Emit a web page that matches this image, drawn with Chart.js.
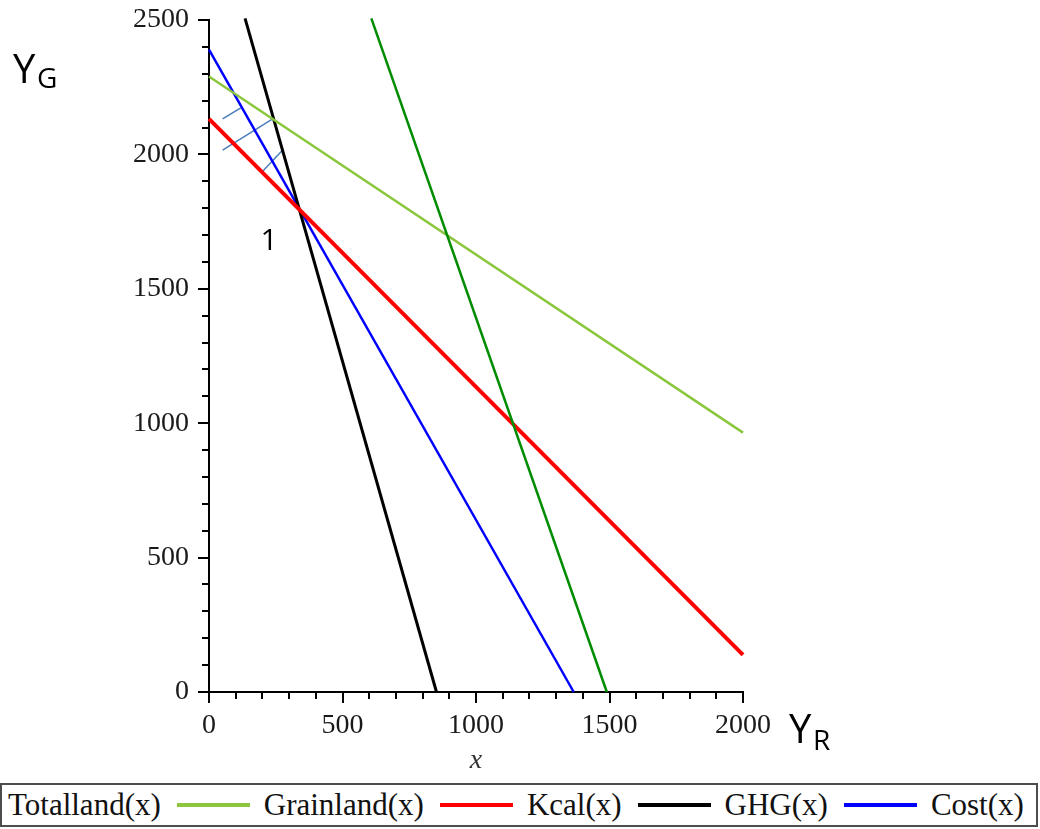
<!DOCTYPE html>
<html>
<head>
<meta charset="utf-8">
<script src="https://cdn.jsdelivr.net/npm/chart.js@4.4.0/dist/chart.umd.min.js"></script>
<style>
  html, body { margin: 0; padding: 0; background: #fff; }
  #wrap { position: relative; width: 1040px; height: 829px; }
  #chartBox { position: absolute; left: 0; top: 0; width: 1040px; height: 780px; }
  #legend {
    position: absolute; left: 0; top: 783px; width: 1038px; height: 44px;
    box-sizing: border-box; border: 2px solid #4d4d4d;
    display: flex; align-items: center; padding-left: 6px;
    font-family: 'Liberation Serif', 'Times New Roman', serif; font-size: 31px;
    color: #111; white-space: nowrap;
  }
  #legend .sample { display: inline-block; width: 73px; height: 4px; margin: 0 14px 0 16px; }
</style>
</head>
<body>
<div id="wrap">
  <div id="chartBox"><canvas id="lpChart"></canvas></div>
  <div id="legend"></div>
</div>
<script>
// --- axis ranges / ticks ---
const X_MIN = 0, X_MAX = 2000;
const Y_MIN = 0, Y_MAX = 2500;
const TICK_STEP = 100;   // minor tick every 100
const MAJOR_STEP = 500;  // labelled tick every 500

// --- constraint lines (end points) ---
const seriesNames  = ['Totalland(x)', 'Grainland(x)', 'Kcal(x)', 'GHG(x)', 'Cost(x)'];
const seriesColors = ['#008c00', '#8cc63f', '#ff0000', '#000000', '#0000ff'];
const seriesWidths = [2.5, 2.5, 4, 3, 2.5];
const seriesX = [[608, 1490], [0, 2000], [0, 2000], [135, 852], [0, 1366]];
const seriesY = [[2506, 0], [2290, 965], [2132, 138], [2506, 0], [2390, 0]];

// --- small hatch strokes near the feasible corner ---
const hatchX = [[51, 119], [51, 243], [202, 276]];
const hatchY = [[2132, 2173], [2016, 2135], [1938, 2016]];
const HATCH_COLOR = '#4a7ebb';

// --- label "1" at the optimum corner ---
const cornerLabel = { text: '1', x: 225, y: 1644 };

const tickFont = { family: "'Liberation Serif', 'Times New Roman', serif", size: 28 };

function toPoints(xs, ys) {
  return xs.map((x, i) => ({ x: x, y: ys[i] }));
}

const datasets = [];
seriesNames.forEach((name, i) => {
  datasets.push({
    label: name,
    data: toPoints(seriesX[i], seriesY[i]),
    borderColor: seriesColors[i],
    borderWidth: seriesWidths[i],
    pointRadius: 0,
    tension: 0,
    clip: false
  });
});
hatchX.forEach((xs, i) => {
  datasets.push({
    label: 'hatch' + i,
    data: toPoints(xs, hatchY[i]),
    borderColor: HATCH_COLOR,
    borderWidth: 1.5,
    pointRadius: 0,
    tension: 0
  });
});

// tick marks (long for major, short for minor) + free text labels
const tickMarks = {
  id: 'tickMarks',
  afterDraw(chart) {
    const ctx = chart.ctx;
    const xs = chart.scales.x, ys = chart.scales.y;
    ctx.save();
    ctx.strokeStyle = '#000';
    ctx.lineWidth = 2;
    ctx.beginPath();
    xs.ticks.forEach(t => {
      const px = Math.round(xs.getPixelForValue(t.value));
      const len = t.value % MAJOR_STEP === 0 ? 11 : 7;
      ctx.moveTo(px, xs.top);
      ctx.lineTo(px, xs.top + len);
    });
    ys.ticks.forEach(t => {
      const py = Math.round(ys.getPixelForValue(t.value));
      const len = t.value % MAJOR_STEP === 0 ? 11 : 7;
      ctx.moveTo(ys.right, py);
      ctx.lineTo(ys.right - len, py);
    });
    ctx.stroke();

    ctx.fillStyle = '#000';
    ctx.textBaseline = 'alphabetic';
    ctx.textAlign = 'left';
    // Y_G
    ctx.font = "40px 'Open Sans', sans-serif";
    ctx.fillText('Y', 13, 83);
    ctx.font = "28px 'Open Sans', sans-serif";
    ctx.fillText('G', 37, 88);
    // Y_R
    ctx.font = "40px 'Open Sans', sans-serif";
    ctx.fillText('Y', 789, 743);
    ctx.font = "28px 'Open Sans', sans-serif";
    ctx.fillText('R', 813, 750);
    // corner label
    ctx.font = "30px 'Open Sans', sans-serif";
    ctx.textAlign = 'center';
    ctx.fillText(cornerLabel.text, xs.getPixelForValue(cornerLabel.x), ys.getPixelForValue(cornerLabel.y));
    ctx.restore();
  }
};

new Chart(document.getElementById('lpChart'), {
  type: 'line',
  data: { datasets: datasets },
  options: {
    responsive: true,
    maintainAspectRatio: false,
    animation: false,
    layout: { padding: { left: 0, top: 20, right: 297, bottom: 0 } },
    plugins: {
      legend: { display: false },
      tooltip: { enabled: false }
    },
    scales: {
      x: {
        type: 'linear',
        min: X_MIN, max: X_MAX,
        grid: { drawOnChartArea: false, drawTicks: false },
        border: { display: true, color: '#000', width: 2 },
        ticks: {
          stepSize: TICK_STEP,
          autoSkip: false,
          maxRotation: 0,
          padding: 17,
          color: '#1a1a1a',
          font: tickFont,
          callback: v => (v % MAJOR_STEP === 0 ? String(v) : '')
        },
        title: {
          display: true, text: 'x', color: '#333',
          font: { family: tickFont.family, size: 28, style: 'italic' },
          padding: { top: 0, bottom: 3 }
        },
        afterFit: scale => { scale.height = 88; }
      },
      y: {
        type: 'linear',
        min: Y_MIN, max: Y_MAX,
        grid: { drawOnChartArea: false, drawTicks: false },
        border: { display: true, color: '#000', width: 2 },
        ticks: {
          stepSize: TICK_STEP,
          autoSkip: false,
          padding: 20,
          color: '#1a1a1a',
          font: tickFont,
          callback: v => (v % MAJOR_STEP === 0 ? String(v) : '')
        },
        afterFit: scale => {
          scale.width = 209;
          scale.paddingTop = 0;
          scale.paddingBottom = 0;
        }
      }
    }
  },
  plugins: [tickMarks]
});

// legend strip (the first sample is cut off by the box edge in the original)
const legendEl = document.getElementById('legend');
seriesNames.forEach((name, i) => {
  if (i > 0) {
    const s = document.createElement('span');
    s.className = 'sample';
    s.style.background = seriesColors[i];
    legendEl.appendChild(s);
  }
  const t = document.createElement('span');
  t.textContent = name;
  legendEl.appendChild(t);
});
</script>
</body>
</html>
